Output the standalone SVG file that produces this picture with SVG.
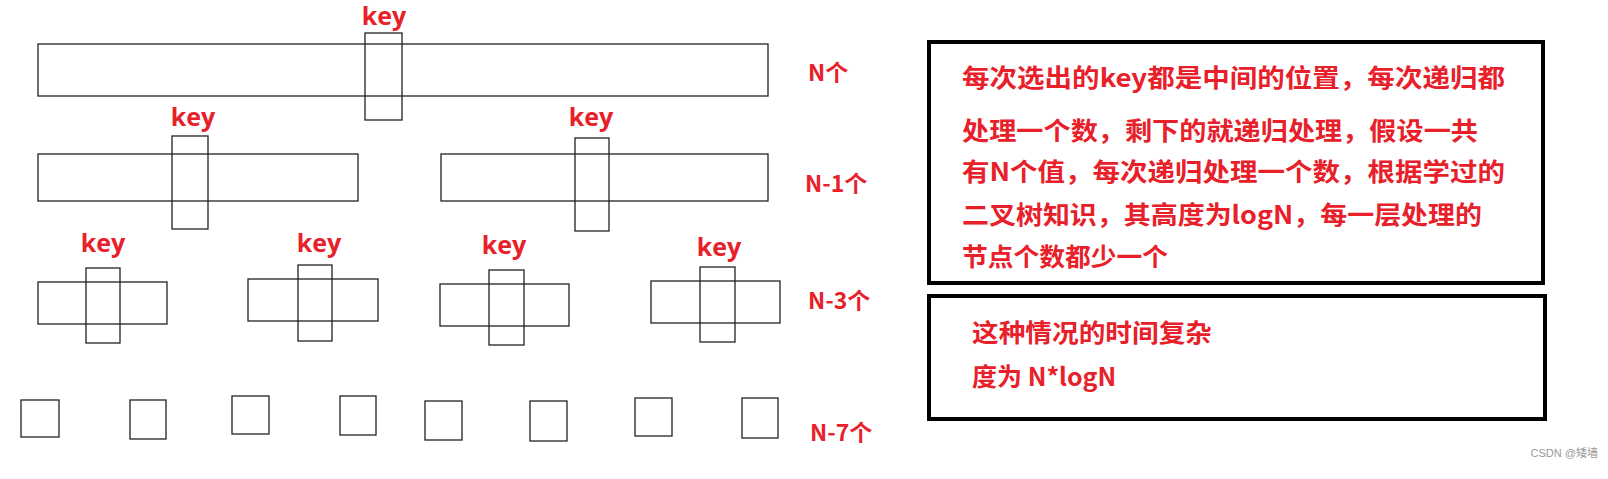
<svg xmlns="http://www.w3.org/2000/svg" width="1608" height="479" viewBox="0 0 1608 479">
<style>
.b{fill:none;stroke:#222;stroke-width:1.3}
.k{font-family:"Open Sans","Noto Sans CJK SC",sans-serif;font-size:25px;font-weight:bold;fill:#e8202a;text-anchor:middle}
.t{font-family:"Noto Sans CJK SC",sans-serif;font-size:25px;font-weight:bold;fill:#e8202a}
.l{font-family:"Noto Sans CJK SC",sans-serif;font-size:23px;font-weight:bold;fill:#e8202a}
.box{fill:none;stroke:#000;stroke-width:4}
</style>
<rect width="1608" height="479" fill="#fff"/>
<g id="row1">
<rect class="b" x="38" y="44" width="730" height="52"/>
<rect class="b" x="365" y="33" width="37" height="87"/>
<text class="k" x="384" y="25">key</text>
<text class="l" x="808" y="81">N个</text>
</g>
<g id="row2">
<rect class="b" x="38" y="154" width="320" height="47"/>
<rect class="b" x="172" y="136" width="36" height="93"/>
<text class="k" x="193" y="126">key</text>
<rect class="b" x="441" y="154" width="327" height="47"/>
<rect class="b" x="575" y="138" width="34" height="93"/>
<text class="k" x="591" y="126">key</text>
<text class="l" x="805" y="192">N-1个</text>
</g>
<g id="row3">
<rect class="b" x="38" y="282" width="129" height="42"/>
<rect class="b" x="86" y="268" width="34" height="75"/>
<text class="k" x="103" y="252">key</text>
<rect class="b" x="248" y="279" width="130" height="42"/>
<rect class="b" x="298" y="265" width="34" height="76"/>
<text class="k" x="319" y="252">key</text>
<rect class="b" x="440" y="284" width="129" height="42"/>
<rect class="b" x="489" y="270" width="35" height="75"/>
<text class="k" x="504" y="254">key</text>
<rect class="b" x="651" y="281" width="129" height="42"/>
<rect class="b" x="700" y="267" width="35" height="75"/>
<text class="k" x="719" y="256">key</text>
<text class="l" x="808" y="309">N-3个</text>
</g>
<g id="row4">
<rect class="b" x="21" y="400" width="38" height="37"/>
<rect class="b" x="130" y="400" width="36" height="39"/>
<rect class="b" x="232" y="396" width="37" height="38"/>
<rect class="b" x="340" y="396" width="36" height="39"/>
<rect class="b" x="425" y="401" width="37" height="39"/>
<rect class="b" x="530" y="401" width="37" height="40"/>
<rect class="b" x="635" y="398" width="37" height="38"/>
<rect class="b" x="742" y="398" width="36" height="40"/>
<text class="l" x="810" y="441">N-7个</text>
</g>
<g id="note1">
<rect class="box" x="929" y="42" width="614" height="241"/>
<text class="t" x="962" y="87" textLength="543" lengthAdjust="spacingAndGlyphs">每次选出的key都是中间的位置，每次递归都</text>
<text class="t" x="962" y="140" textLength="516" lengthAdjust="spacingAndGlyphs">处理一个数，剩下的就递归处理，假设一共</text>
<text class="t" x="962" y="181" textLength="543" lengthAdjust="spacingAndGlyphs">有N个值，每次递归处理一个数，根据学过的</text>
<text class="t" x="962" y="224" textLength="520" lengthAdjust="spacingAndGlyphs">二叉树知识，其高度为logN，每一层处理的</text>
<text class="t" x="962" y="266" textLength="206" lengthAdjust="spacingAndGlyphs">节点个数都少一个</text>
</g>
<g id="note2">
<rect class="box" x="929" y="296" width="616" height="123"/>
<text class="t" x="972" y="342" textLength="240" lengthAdjust="spacingAndGlyphs">这种情况的时间复杂</text>
<text class="t" x="972" y="386">度为 N*logN</text>
</g>
<text x="1598" y="457" text-anchor="end" font-family="'Liberation Sans','Noto Sans CJK SC',sans-serif" font-size="11" fill="#999">CSDN @矮墙</text>
<g id="connectors"/>
</svg>
